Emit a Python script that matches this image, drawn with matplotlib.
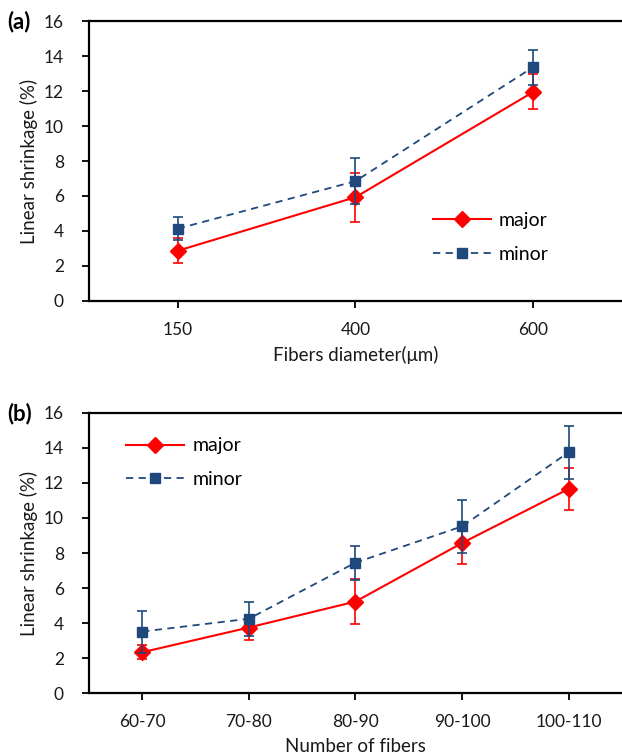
import matplotlib
matplotlib.use("Agg")
import matplotlib.pyplot as plt
from matplotlib.lines import Line2D

plt.rcParams['font.family'] = ['Lato', 'DejaVu Sans']

# panel (a): fiber diameter
diam_labels = ['150', '400', '600']
diam_major = [2.87, 5.93, 11.95]
diam_major_err = [0.7, 1.4, 1.0]
diam_minor = [4.13, 6.85, 13.37]
diam_minor_err = [0.65, 1.33, 1.0]

# panel (b): number of fibers
num_labels = ['60-70', '70-80', '80-90', '90-100', '100-110']
num_major = [2.34, 3.75, 5.23, 8.57, 11.66]
num_major_err = [0.4, 0.7, 1.3, 1.2, 1.2]
num_minor = [3.52, 4.25, 7.45, 9.52, 13.75]
num_minor_err = [1.2, 0.97, 0.97, 1.5, 1.5]

RED = '#ff0000'
BLUE = '#1f497d'
TXT = '#1a1a1a'


def draw(ax, labels, major, major_err, minor, minor_err, xlabel, legend_loc):
    x = list(range(len(labels)))
    ax.errorbar(x, major, yerr=major_err, color=RED, marker='D', markersize=8,
                lw=1.5, capsize=3.5, elinewidth=1.2, capthick=1.2, zorder=3)
    ax.errorbar(x, minor, yerr=minor_err, color=BLUE, marker='s', markersize=7,
                lw=1.3, ls=(0, (4, 3)), capsize=3.5, elinewidth=1.2, capthick=1.2,
                zorder=4)
    ax.set_xlim(-0.5, len(labels) - 0.5)
    ax.set_ylim(0, 16)
    ax.set_yticks(range(0, 17, 2))
    ax.set_xticks(x)
    ax.set_xticklabels(labels)
    ax.spines['right'].set_visible(False)
    for s in ('left', 'bottom', 'top'):
        ax.spines[s].set_linewidth(1.6)
    ax.tick_params(axis='both', labelsize=12.5, direction='out', width=1.3, length=5,
                   colors='black', labelcolor=TXT)
    ax.tick_params(axis='y', pad=13)
    ax.tick_params(axis='x', pad=10)
    ax.set_ylabel('Linear shrinkage (%)', fontsize=13.5, color=TXT, labelpad=4)
    ax.set_xlabel(xlabel, fontsize=13.5, color=TXT, labelpad=6)
    handles = [
        Line2D([], [], color=RED, marker='D', markersize=8, lw=1.5),
        Line2D([], [], color=BLUE, marker='s', markersize=7, lw=1.3, ls=(0, (4, 3))),
    ]
    ax.legend(handles, ['major', 'minor'], loc='upper left', bbox_to_anchor=legend_loc,
              frameon=False, fontsize=14, handlelength=3, handletextpad=0.4,
              labelspacing=0.85, borderaxespad=0)


fig = plt.figure(figsize=(6.22, 7.56), dpi=100)
ax1 = fig.add_axes([0.143, 0.602, 0.857, 0.370])
ax2 = fig.add_axes([0.143, 0.083, 0.857, 0.371])

draw(ax1, diam_labels, diam_major, diam_major_err, diam_minor, diam_minor_err,
     'Fibers diameter(\u03bcm)', (0.63, 0.345))
draw(ax2, num_labels, num_major, num_major_err, num_minor, num_minor_err,
     'Number of fibers', (0.055, 0.94))

fig.text(0.012, 0.972, '(a)', fontsize=16, fontweight='bold', va='center')
fig.text(0.012, 0.453, '(b)', fontsize=16, fontweight='bold', va='center')

fig.savefig('out.png', dpi=100)
